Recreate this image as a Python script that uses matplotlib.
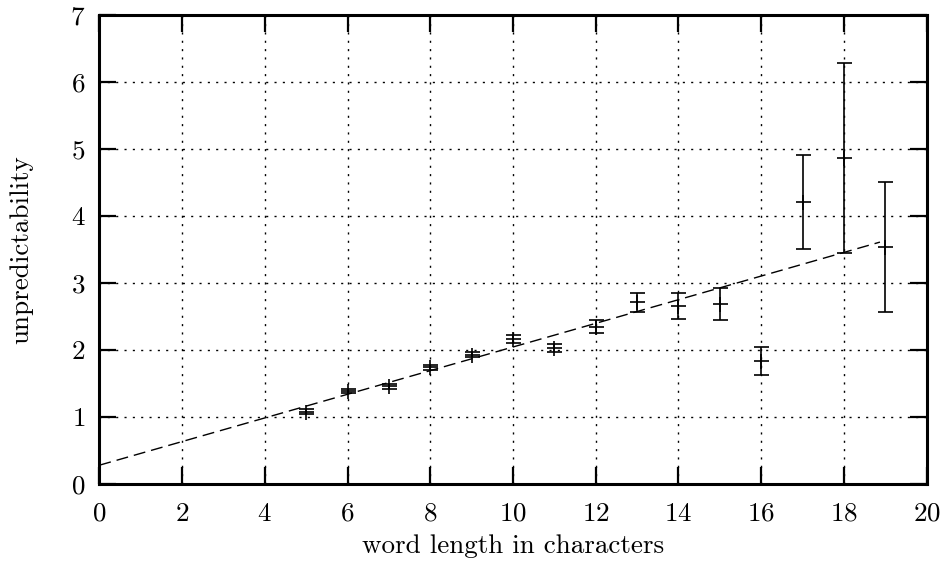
import matplotlib
matplotlib.use("Agg")
import matplotlib.pyplot as plt

# data
word_len = [5, 6, 7, 8, 9, 10, 11, 12, 13, 14, 15, 16, 17, 18, 19]
unpred = [1.08, 1.39, 1.455, 1.74, 1.93, 2.16, 2.03, 2.35, 2.71, 2.655, 2.68, 1.84, 4.21, 4.86, 3.53]
unpred_err = [0.04, 0.035, 0.04, 0.04, 0.04, 0.06, 0.06, 0.09, 0.14, 0.19, 0.24, 0.21, 0.70, 1.42, 0.97]

# linear fit drawn as dashed line (end points)
fit_x = [0, 18.87]
fit_y = [0.28, 3.61]

xticks = list(range(0, 21, 2))
yticks = list(range(0, 8))

plt.rcParams['font.family'] = ['cmr10', 'DejaVu Serif']
plt.rcParams['axes.formatter.use_mathtext'] = True

fig = plt.figure(figsize=(9.46, 5.65), dpi=100)
ax = fig.add_axes([0.105, 0.1434, 0.8746, 0.8301])

ax.plot(fit_x, fit_y, color='black', lw=1.0, dashes=(8.6, 4.3))
ax.errorbar(word_len, unpred, yerr=unpred_err, fmt='+', color='black',
            ms=10.8, mew=1.2, elinewidth=1.2, capsize=5.4, capthick=1.2)

ax.set_xlim(0, 20)
ax.set_ylim(0, 7)
ax.set_xticks(xticks)
ax.set_yticks(yticks)
ax.grid(True, color='black', lw=1.0, dashes=(1.5, 4.5))
ax.set_axisbelow(True)

for s in ax.spines.values():
    s.set_linewidth(2.2)
ax.tick_params(direction='in', length=12, width=1.6, top=True, right=True,
               labelsize=19.5)
ax.tick_params(axis='x', pad=13)
ax.tick_params(axis='y', pad=10)

ax.set_xlabel('word length in characters', fontsize=19.5, labelpad=6)
ax.set_ylabel('unpredictability', fontsize=19.5, labelpad=27)

fig.savefig('out.png', dpi=100)
